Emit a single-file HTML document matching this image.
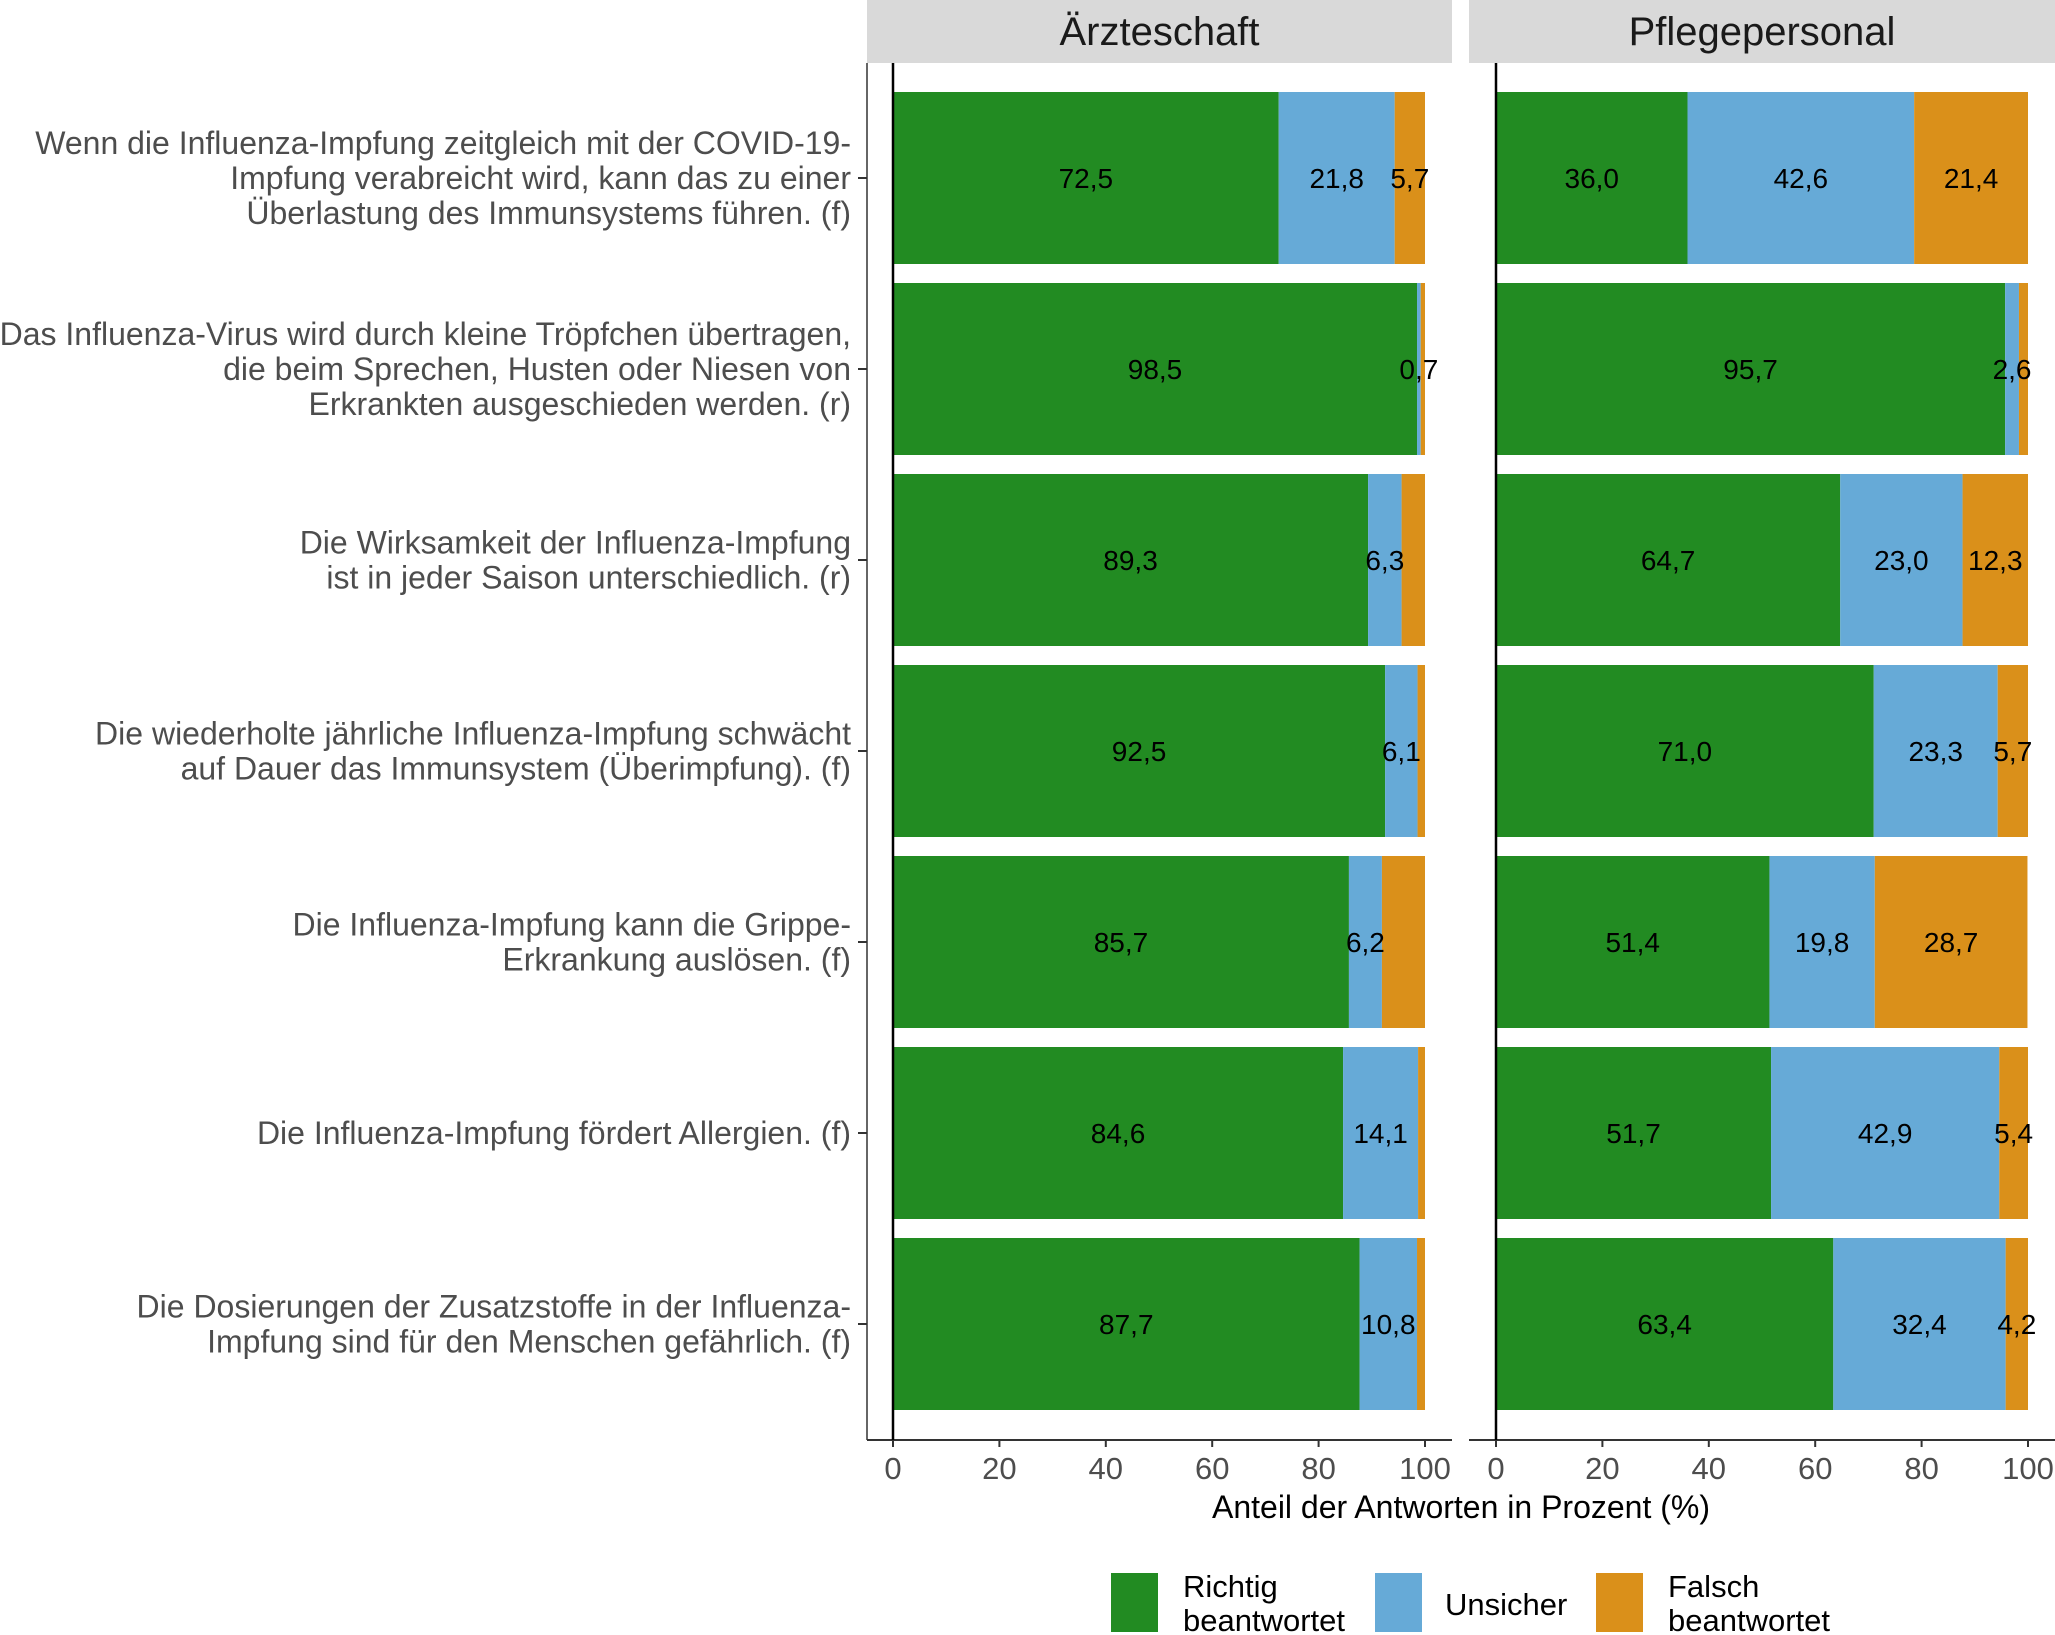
<!DOCTYPE html>
<html><head><meta charset="utf-8"><style>
html,body{margin:0;padding:0;background:#fff;}
svg{display:block;font-family:"Liberation Sans",sans-serif;}
</style></head><body>
<svg id="chart" width="2055" height="1635" viewBox="0 0 2055 1635"></svg>
<script>
const questions=[
["Wenn die Influenza-Impfung zeitgleich mit der COVID-19-","Impfung verabreicht wird, kann das zu einer","Überlastung des Immunsystems führen. (f)"],
["Das Influenza-Virus wird durch kleine Tröpfchen übertragen,","die beim Sprechen, Husten oder Niesen von","Erkrankten ausgeschieden werden. (r)"],
["Die Wirksamkeit der Influenza-Impfung","ist in jeder Saison unterschiedlich. (r)"],
["Die wiederholte jährliche Influenza-Impfung schwächt","auf Dauer das Immunsystem (Überimpfung). (f)"],
["Die Influenza-Impfung kann die Grippe-","Erkrankung auslösen. (f)"],
["Die Influenza-Impfung fördert Allergien. (f)"],
["Die Dosierungen der Zusatzstoffe in der Influenza-","Impfung sind für den Menschen gefährlich. (f)"]
];
const panels=["Ärzteschaft","Pflegepersonal"];
const aerzteRichtig=[72.5,98.5,89.3,92.5,85.7,84.6,87.7];
const aerzteUnsicher=[21.8,0.7,6.3,6.1,6.2,14.1,10.8];
const aerzteFalsch=[5.7,0.8,4.4,1.4,8.1,1.3,1.5];
const aerzteFalschShown=[true,false,false,false,false,false,false];
const pflegeRichtig=[36.0,95.7,64.7,71.0,51.4,51.7,63.4];
const pflegeUnsicher=[42.6,2.6,23.0,23.3,19.8,42.9,32.4];
const pflegeFalsch=[21.4,1.7,12.3,5.7,28.7,5.4,4.2];
const pflegeFalschShown=[true,false,true,true,true,true,true];
const xTicks=[0,20,40,60,80,100];
const legendLabels=[["Richtig","beantwortet"],["Unsicher"],["Falsch","beantwortet"]];

const svg=document.getElementById('chart');
const NS="http://www.w3.org/2000/svg";
function mk(tag,attrs,parent){const e=document.createElementNS(NS,tag);for(const k in attrs)e.setAttribute(k,attrs[k]);(parent||svg).appendChild(e);return e;}
const colors=["#228B22","#66AAD7","#DA901A"];
const zeros=[893,1496];
const pxPer=5.32;
function xs(p,v){return zeros[p]+v*pxPer;}
const barTop=92,pitch=191,barH=172;
function yBand(i){return barTop+i*pitch;}
const fmt=v=>v.toFixed(1).replace('.',',');

const strips=[[867,1452],[1469,2055]];
panels.forEach((t,p)=>{
  const r=mk('rect',{x:strips[p][0],y:0,width:strips[p][1]-strips[p][0],height:63,fill:"#d9d9d9"});
  
  
  const tx=mk('text',{x:(strips[p][0]+strips[p][1])/2,y:45,'text-anchor':'middle','font-size':40,fill:"#1a1a1a"});
  tx.textContent=t;
  
  
});

questions.forEach((lines,i)=>{
  const cy=yBand(i)+barH/2;
  const g=mk('text',{'text-anchor':'end','font-size':32,fill:"#4d4d4d"});
  
  
  const n=lines.length;
  lines.forEach((l,k)=>{
    const ts=mk('tspan',{x:851,y:cy+11+(k-(n-1)/2)*35},g);ts.textContent=l;
  });
  mk('line',{x1:858,x2:867,y1:cy,y2:cy,stroke:"#333",'stroke-width':2});
});

mk('line',{x1:867,x2:867,y1:63,y2:1440,stroke:"#333",'stroke-width':1.5});
mk('line',{x1:867,x2:1452,y1:1440,y2:1440,stroke:"#333",'stroke-width':2});
mk('line',{x1:1469,x2:2055,y1:1440,y2:1440,stroke:"#333",'stroke-width':2});

const barLayer=mk('g',{});


const axisLayer=mk('g',{});
const labelLayer=mk('g',{});



const series=[[aerzteRichtig,aerzteUnsicher,aerzteFalsch,aerzteFalschShown],[pflegeRichtig,pflegeUnsicher,pflegeFalsch,pflegeFalschShown]];
series.forEach((s,p)=>{
  for(let i=0;i<questions.length;i++){
    let cum=0;
    [s[0][i],s[1][i],s[2][i]].forEach((v,c)=>{
      const r=mk('rect',{x:xs(p,cum),y:yBand(i),width:v*pxPer,height:barH,fill:colors[c]},barLayer);
      
      
      const show=c<2||s[3][i];
      if(show){
        const t=mk('text',{x:xs(p,cum+v/2),y:yBand(i)+barH/2+10,'text-anchor':'middle','font-size':28,fill:"#000"},labelLayer);
        t.textContent=fmt(v);
        
        
      }
      cum+=v;
    });
  }
  mk('line',{x1:zeros[p],x2:zeros[p],y1:63,y2:1440,stroke:"#000",'stroke-width':2.5},axisLayer);
  xTicks.forEach(v=>{
    mk('line',{x1:xs(p,v),x2:xs(p,v),y1:1440,y2:1447,stroke:"#333",'stroke-width':2},axisLayer);
    const t=mk('text',{x:xs(p,v),y:1479,'text-anchor':'middle','font-size':31,fill:"#4d4d4d"},axisLayer);
    t.textContent=v;
    
    
  });
});
const xt=mk('text',{x:1461,y:1518,'text-anchor':'middle','font-size':32,fill:"#000"});
xt.textContent="Anteil der Antworten in Prozent (%)";



const keyX=[1111,1375,1596],textX=[1183,1445,1668];
legendLabels.forEach((lab,k)=>{
  const r=mk('rect',{x:keyX[k],y:1573,width:47,height:59,fill:colors[k]});
  
  
  const t=mk('text',{'font-size':31,fill:"#000"});
  
  
  if(lab.length===1){const ts=mk('tspan',{x:textX[k],y:1615},t);ts.textContent=lab[0];}
  else lab.forEach((l,j)=>{const ts=mk('tspan',{x:textX[k],y:1597+j*34},t);ts.textContent=l;});
});
</script>
</body></html>
